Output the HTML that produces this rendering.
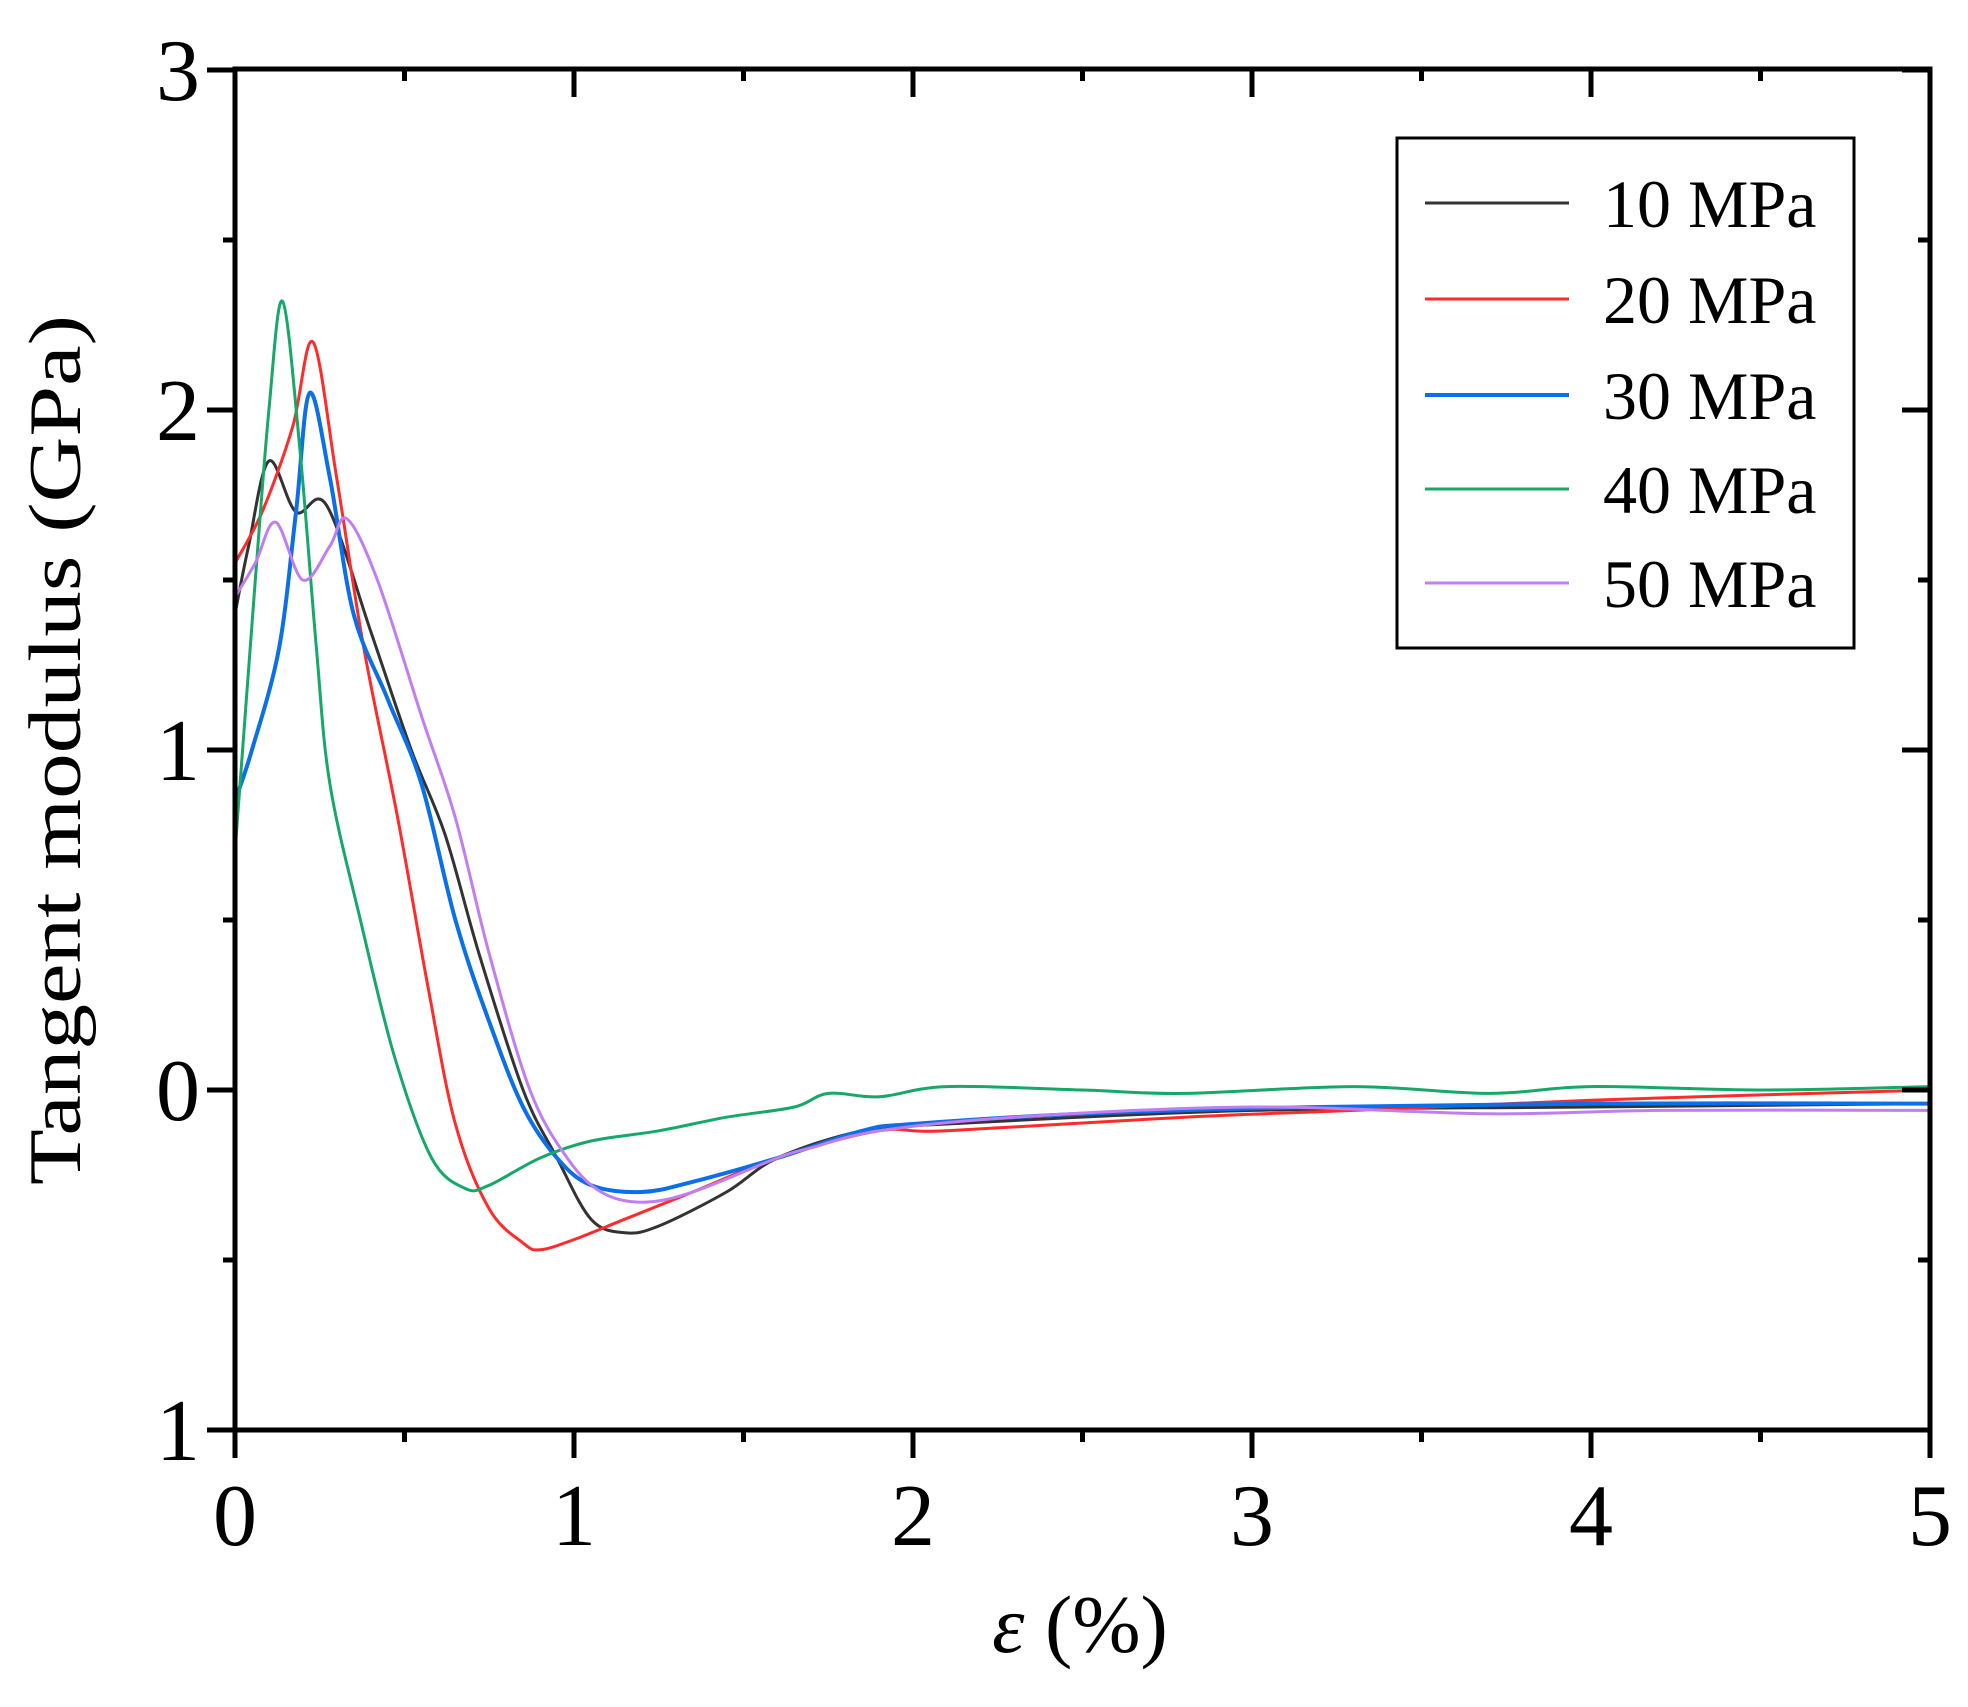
<!DOCTYPE html>
<html><head><meta charset="utf-8"><style>
html,body{margin:0;padding:0;background:#fff}
svg{display:block}
text{font-family:"Liberation Serif",serif;fill:#000}
</style></head><body>
<svg id="s" width="1968" height="1707" viewBox="0 0 1968 1707" xmlns="http://www.w3.org/2000/svg">
<g id="curves" fill="none" stroke-width="3" stroke-linejoin="round"></g>
<rect x="235" y="69" width="1695" height="1361" fill="none" stroke="#000" stroke-width="5"/>
<g id="ticks" stroke="#000" stroke-width="5"></g>
<g font-size="88" text-anchor="end">
<text x="200" y="100">3</text><text x="200" y="440">2</text><text x="200" y="780">1</text><text x="200" y="1120">0</text><text x="200" y="1460">1</text>
</g>
<g font-size="88" text-anchor="middle">
<text x="235" y="1545">0</text><text x="574" y="1545">1</text><text x="913" y="1545">2</text><text x="1252" y="1545">3</text><text x="1591" y="1545">4</text><text x="1930" y="1545">5</text>
</g>
<text x="1080" y="1652" font-size="82" text-anchor="middle"><tspan font-style="italic">ε</tspan> (%)</text>
<text transform="translate(80,750) rotate(-90)" font-size="74" text-anchor="middle" textLength="870" lengthAdjust="spacingAndGlyphs">Tangent modulus (GPa)</text>
<rect x="1397" y="138" width="457" height="510" fill="#fff" stroke="#000" stroke-width="3"/>
<g stroke-width="3">
<line x1="1425" y1="203" x2="1569" y2="203" stroke="#333"/>
<line x1="1425" y1="299" x2="1569" y2="299" stroke="#ff2a2a"/>
<line x1="1425" y1="395" x2="1569" y2="395" stroke="#0a6fe8" stroke-width="4"/>
<line x1="1425" y1="489" x2="1569" y2="489" stroke="#16a868"/>
<line x1="1425" y1="583" x2="1569" y2="583" stroke="#c07ef0"/>
</g>
<g font-size="68">
<text x="1603" y="227">10 MPa</text><text x="1603" y="323">20 MPa</text><text x="1603" y="419">30 MPa</text><text x="1603" y="513">40 MPa</text><text x="1603" y="607">50 MPa</text>
</g>
</svg>
<script>
const X=x=>235+339*x, Y=y=>1090-340*y;
const NS="http://www.w3.org/2000/svg";
const series=[
["#333",3,[[0,1.4],[0.04,1.6],[0.1,1.85],[0.18,1.7],[0.27,1.72],[0.4,1.35],[0.52,1.0],[0.62,0.75],[0.72,0.4],[0.85,0.0],[0.95,-0.2],[1.05,-0.38],[1.15,-0.42],[1.25,-0.4],[1.45,-0.3],[1.6,-0.2],[1.85,-0.12],[2.1,-0.1],[3,-0.06],[4,-0.05],[5,-0.04]]],
["#ff2a2a",3,[[0,1.55],[0.08,1.7],[0.17,1.95],[0.23,2.2],[0.3,1.8],[0.38,1.3],[0.48,0.8],[0.57,0.3],[0.65,-0.1],[0.75,-0.35],[0.85,-0.45],[0.9,-0.47],[1.0,-0.44],[1.15,-0.38],[1.35,-0.3],[1.6,-0.2],[1.9,-0.12],[2.1,-0.12],[2.8,-0.08],[3.3,-0.06],[4,-0.03],[5,0]]],
["#0a6fe8",4,[[0,0.85],[0.05,1.0],[0.13,1.3],[0.18,1.7],[0.22,2.05],[0.28,1.8],[0.35,1.4],[0.45,1.15],[0.55,0.9],[0.65,0.5],[0.75,0.2],[0.85,-0.05],[0.95,-0.2],[1.05,-0.28],[1.2,-0.3],[1.35,-0.27],[1.6,-0.2],[1.85,-0.12],[2.0,-0.1],[2.5,-0.07],[3.2,-0.05],[4,-0.04],[5,-0.04]]],
["#16a868",3,[[0,0.7],[0.06,1.5],[0.1,2.0],[0.14,2.32],[0.19,1.9],[0.24,1.3],[0.28,0.9],[0.37,0.5],[0.47,0.1],[0.58,-0.2],[0.68,-0.29],[0.75,-0.28],[0.9,-0.2],[1.05,-0.15],[1.25,-0.12],[1.45,-0.08],[1.65,-0.05],[1.75,-0.01],[1.9,-0.02],[2.1,0.01],[2.5,0.0],[2.8,-0.01],[3.3,0.01],[3.7,-0.01],[4,0.01],[4.5,0.0],[5,0.01]]],
["#c07ef0",3,[[0,1.45],[0.06,1.55],[0.12,1.67],[0.2,1.5],[0.28,1.6],[0.33,1.68],[0.42,1.5],[0.55,1.1],[0.65,0.8],[0.75,0.4],[0.87,0.0],[0.98,-0.2],[1.08,-0.3],[1.2,-0.33],[1.35,-0.3],[1.6,-0.2],[1.7,-0.17],[1.9,-0.12],[2.3,-0.08],[3,-0.05],[3.7,-0.07],[4.2,-0.06],[5,-0.06]]]
];
const g=document.getElementById("curves");
for(const [c,w,pts] of series){
 const p=pts.map(([x,y])=>[X(x),Y(y)]);
 let d="M"+p[0][0]+","+p[0][1];
 for(let i=0;i<p.length-1;i++){
  const p0=p[Math.max(0,i-1)],p1=p[i],p2=p[i+1],p3=p[Math.min(p.length-1,i+2)];
  const c1=[p1[0]+(p2[0]-p0[0])/6,p1[1]+(p2[1]-p0[1])/6];
  const c2=[p2[0]-(p3[0]-p1[0])/6,p2[1]-(p3[1]-p1[1])/6];
  d+=` C${c1[0].toFixed(1)},${c1[1].toFixed(1)} ${c2[0].toFixed(1)},${c2[1].toFixed(1)} ${p2[0].toFixed(1)},${p2[1].toFixed(1)}`;
 }
 const e=document.createElementNS(NS,"path");
 e.setAttribute("d",d);e.setAttribute("stroke",c);e.setAttribute("stroke-width",w);
 g.appendChild(e);
}
const t=document.getElementById("ticks");
function L(x1,y1,x2,y2){const e=document.createElementNS(NS,"line");e.setAttribute("x1",x1);e.setAttribute("y1",y1);e.setAttribute("x2",x2);e.setAttribute("y2",y2);t.appendChild(e);}
for(let i=0;i<=10;i++){const x=X(i/2),len=i%2?12:28;L(x,1430,x,1430+len);L(x,69,x,69+len);}
for(let i=0;i<=8;i++){const y=1430-170*i,len=i%2?12:28;L(235,y,235-len,y);L(1930,y,1930-len,y);}
</script>
</body></html>
